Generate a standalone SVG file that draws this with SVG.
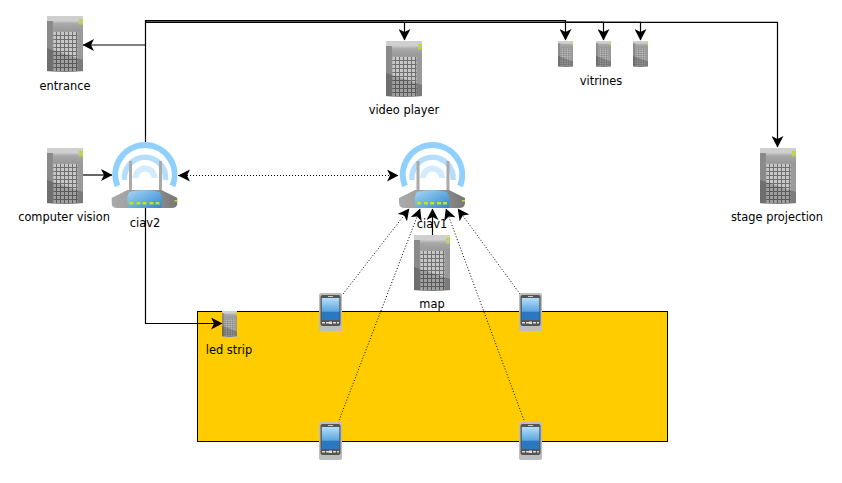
<svg xmlns="http://www.w3.org/2000/svg" width="842" height="483" viewBox="0 0 842 483">
<style>
text{font-family:"DejaVu Sans",sans-serif;font-size:11.4px;fill:#000;text-anchor:middle}
.c{fill:none;stroke:#000;stroke-width:1.2}
.d{fill:none;stroke:#000;stroke-width:1;stroke-dasharray:1 2}
.a{marker-end:url(#ah)}
</style>
<defs>
<marker id="ah" markerUnits="userSpaceOnUse" markerWidth="12" markerHeight="12" refX="11" refY="6" orient="auto"><path d="M0 0L11.500 6L0 12L3 6Z" fill="#000"/></marker>
<linearGradient id="sv" x1="0" x2="1" y1="0" y2="0"><stop offset="0" stop-color="#8a8a8a"/><stop offset=".15" stop-color="#8a8a8a"/><stop offset=".17" stop-color="#a2a2a2"/><stop offset="1" stop-color="#999"/></linearGradient>
<linearGradient id="st" x1="0" x2="0" y1="0" y2="1"><stop offset="0" stop-color="#d5d5d5"/><stop offset=".35" stop-color="#a8a8a8"/><stop offset="1" stop-color="#999"/></linearGradient>
<linearGradient id="rb" x1="0" x2="1" y1="0" y2="0"><stop offset="0" stop-color="#aaa"/><stop offset=".5" stop-color="#999"/><stop offset="1" stop-color="#777"/></linearGradient>
<linearGradient id="rm" x1="0" x2="1" y1="0" y2="1"><stop offset="0" stop-color="#a8d8f4"/><stop offset="1" stop-color="#2f86d0"/></linearGradient>
<linearGradient id="ps" x1="0" x2="0" y1="0" y2="1"><stop offset="0" stop-color="#b5dff8"/><stop offset=".6" stop-color="#5ba6e0"/><stop offset=".65" stop-color="#2a78c0"/><stop offset="1" stop-color="#2a78c0"/></linearGradient>
<pattern id="win" width="4" height="4" patternUnits="userSpaceOnUse" x="6" y="16"><rect width="4" height="4" fill="#707070"/><rect width="3" height="3" fill="#c8c8c8"/></pattern>
<symbol id="server" viewBox="0 0 36 56" preserveAspectRatio="none">
<rect width="36" height="56" fill="url(#sv)"/>
<rect x="0" y="0" width="36" height="5" fill="#cfcfcf"/>
<rect x="6" y="4" width="30" height="11" fill="url(#st)"/>
<rect x="32" y="3" width="4" height="2" fill="#c3d82c"/><rect x="32" y="6.500" width="4" height="2" fill="#c3d82c"/>
<rect x="6.500" y="16" width="24" height="39" fill="url(#win)"/>
<path d="M0 32L36 44V56H0Z" fill="#000" opacity=".2"/>
<path d="M0 55Q18 57 36 55V56H0Z" fill="#eee"/>
</symbol>
<symbol id="router" viewBox="0 0 66 66">
<g fill="none">
<path d="M6 44A29.700 29.700 0 1 1 61 44" stroke="#90d0fc" stroke-width="6"/>
<path d="M13 38A20.600 20.600 0 1 1 54 38" stroke="#b4defc" stroke-width="5.500"/>
<path d="M24 36A9.500 9.500 0 1 1 43 36" stroke="#d3ecfd" stroke-width="6"/>
</g>
<rect x="17.500" y="19" width="3" height="32" fill="#aaa"/>
<rect x="47.500" y="19" width="3" height="32" fill="#aaa"/>
<path d="M0 56L16 48H50L66 56V61Q66 66 60 66H6Q0 66 0 61Z" fill="url(#rb)"/>
<path d="M18 50Q33 46 48 50Q52 55 50 66H17Q14 55 18 50Z" fill="url(#rm)"/>
<g fill="#c8e020"><rect x="18" y="60" width="4" height="2.500"/><rect x="25" y="60" width="4" height="2.500"/><rect x="31" y="60" width="4" height="2.500"/><rect x="38" y="60" width="4" height="2.500"/><rect x="44" y="60" width="4" height="2.500"/><rect x="63" y="58" width="3" height="1.500"/></g>
</symbol>
<symbol id="phone" viewBox="0 0 23 38">
<rect width="23" height="38" rx="2" fill="#bdbdbd"/>
<rect x="1.500" y="2" width="20" height="31" rx="2" fill="#555"/>
<rect x="2.800" y="5" width="17.500" height="22" fill="url(#ps)"/>
<rect x="9" y="3" width="5" height="1" fill="#ccc"/>
<g fill="#ddd"><rect x="3" y="29" width="3" height="1.500"/><rect x="7" y="29" width="3" height="1.500"/><rect x="10" y="28.500" width="3" height="2.500"/><rect x="14" y="29" width="3" height="1.500"/><rect x="18" y="29" width="2" height="1.500"/></g>
</symbol>
</defs>
<g id="stage-area"><rect x="197.500" y="311.500" width="470" height="130" fill="#ffcc00" stroke="#000" stroke-width="1"/></g>
<g id="connectors">
<path class="c a" d="M145.500 142V45H83"/>
<path class="c a" d="M145.500 45V20.500H565.500V40"/>
<path class="c a" d="M145.500 22.300H404.500V40"/>
<path class="c a" d="M145.500 22.300H603.500V40"/>
<path class="c a" d="M145.500 22.300H640.500V40"/>
<path class="c a" d="M145.500 22.300H777.500V147"/>
<path class="c a" d="M83 175H112"/>
<path class="c a" d="M145.500 208V323.500H222"/>
<path class="c a" d="M432.500 235V209"/>
<path class="d a" d="M178 175.500H398"/>
<path d="M178 175.500L190 169.500L187 175.500L190 181.500Z" fill="#000"/>
<path class="d a" d="M343 294L409 209"/>
<path class="d a" d="M338 423L420 209"/>
<path class="d a" d="M520 294L458 209"/>
<path class="d a" d="M525 423L446 209"/>
</g>
<g id="entrance"><use href="#server" x="47" y="16" width="36" height="56"/><text x="65" y="90">entrance</text></g>
<g id="computer-vision"><use href="#server" x="47" y="148" width="36" height="56"/><text x="64" y="221">computer vision</text></g>
<g id="ciav2"><use href="#router" x="111.500" y="142" width="66" height="66"/><text x="145" y="227">ciav2</text></g>
<g id="ciav1"><use href="#router" x="399" y="142" width="66" height="66"/><text x="432" y="228">ciav1</text></g>
<g id="video-player"><use href="#server" x="386" y="41" width="36" height="56"/><text x="404" y="114">video player</text></g>
<g id="vitrine-1"><use href="#server" x="558" y="41" width="15" height="26"/></g>
<g id="vitrine-2"><use href="#server" x="596" y="41" width="15" height="26"/></g>
<g id="vitrine-3"><use href="#server" x="633" y="41" width="15" height="26"/></g>
<text id="vitrines" x="601" y="85">vitrines</text>
<g id="stage-projection"><use href="#server" x="760" y="148" width="36" height="56"/><text x="777" y="221">stage projection</text></g>
<g id="map"><use href="#server" x="414" y="235" width="36" height="56"/><text x="432" y="308">map</text></g>
<g id="led-strip"><use href="#server" x="222" y="311" width="15" height="26"/><text x="229" y="354">led strip</text></g>
<g id="phone-1"><use href="#phone" x="319" y="293" width="23" height="38"/></g>
<g id="phone-2"><use href="#phone" x="519" y="293" width="23" height="38"/></g>
<g id="phone-3"><use href="#phone" x="319" y="422" width="23" height="38"/></g>
<g id="phone-4"><use href="#phone" x="519" y="422" width="23" height="38"/></g>
</svg>
